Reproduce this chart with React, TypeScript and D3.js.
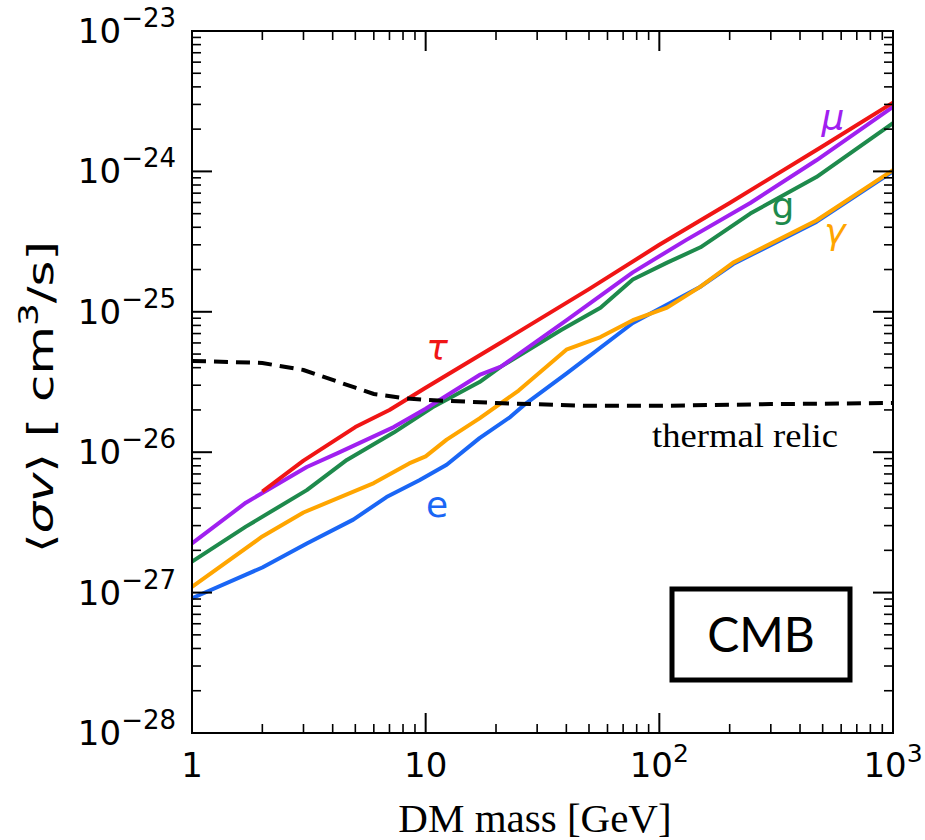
import React from "react";
import * as d3 from "d3";

// ---- data ----
const tauMass = [2, 3, 5, 7, 10, 20, 50, 100, 200, 500, 1000];
const tauSv = [5.25e-27, 8.7e-27, 1.51e-26, 2.0e-26, 2.88e-26, 5.75e-26, 1.45e-25, 3.0e-25, 5.96e-25, 1.51e-24, 3.09e-24];

const muMass = [1, 1.7, 3.1, 4.2, 7.3, 10, 17, 21, 40, 77, 130, 245, 470, 1000];
const muSv = [2.24e-27, 4.37e-27, 7.85e-27, 9.86e-27, 1.51e-26, 2.04e-26, 3.55e-26, 4.07e-26, 8.7e-26, 1.91e-25, 3.24e-25, 5.96e-25, 1.2e-24, 2.88e-24];

const gMass = [1, 1.7, 3.1, 4.6, 7.3, 10.7, 17, 21, 38, 56, 77, 108, 150, 245, 470, 1000];
const gSv = [1.66e-27, 2.95e-27, 5.37e-27, 8.81e-27, 1.38e-26, 2.09e-26, 3.16e-26, 4.07e-26, 7.41e-26, 1.07e-25, 1.7e-25, 2.24e-25, 2.88e-25, 5.01e-25, 9.12e-25, 2.21e-24];

const gammaMass = [1, 2, 3, 6, 8.5, 10, 12.3, 17, 25, 40, 56, 77, 108, 150, 207, 470, 1000];
const gammaSv = [1.1e-27, 2.51e-27, 3.72e-27, 6.03e-27, 8.32e-27, 9.33e-27, 1.23e-26, 1.74e-26, 2.75e-26, 5.37e-26, 6.61e-26, 8.71e-26, 1.07e-25, 1.51e-25, 2.24e-25, 4.47e-25, 1.02e-24];

const eMass = [1, 2, 3.1, 4.9, 6.8, 9.4, 12.3, 17, 23, 27, 40, 77, 150, 207, 470, 1000];
const eSv = [9.12e-28, 1.51e-27, 2.24e-27, 3.31e-27, 4.79e-27, 6.31e-27, 8.13e-27, 1.26e-26, 1.78e-26, 2.24e-26, 3.63e-26, 8.32e-26, 1.51e-25, 2.19e-25, 4.37e-25, 1.0e-24];

const thermalMass = [1, 2, 3, 4, 5, 6, 8, 10, 20, 50, 100, 300, 1000];
const thermalSv = [4.47e-26, 4.32e-26, 3.85e-26, 3.27e-26, 2.88e-26, 2.6e-26, 2.43e-26, 2.36e-26, 2.24e-26, 2.14e-26, 2.14e-26, 2.2e-26, 2.24e-26];

const xTickValues = [1, 10, 100, 1000];
const xTickLabels: [string, string][] = [["1", ""], ["10", ""], ["10", "2"], ["10", "3"]];
const yTickValues = [1e-28, 1e-27, 1e-26, 1e-25, 1e-24, 1e-23];
const yTickExps = ["−28", "−27", "−26", "−25", "−24", "−23"];

const W = 925;
const H = 840;
const L = 192, R = 893, T = 31, B = 733;

export default function App() {
  const x = d3.scaleLog().domain([1, 1000]).range([L, R]);
  const y = d3.scaleLog().domain([1e-28, 1e-23]).range([B, T]);

  const line = (ms: number[], vs: number[]) =>
    d3.line<number>().x((_, i) => x(ms[i])).y((v) => y(v))(vs) || "";

  const xMinor: number[] = [];
  for (let d = 1; d < 1000; d *= 10) for (let k = 2; k <= 9; k++) xMinor.push(d * k);
  const yMinor: number[] = [];
  for (let e = -28; e < -23; e++) for (let k = 2; k <= 9; k++) yMinor.push(k * Math.pow(10, e));

  const major = 20, minor = 9;
  const tickFont = "'DejaVu Sans', sans-serif";

  const series = [
    { m: eMass, v: eSv, c: "#1a66f5" },
    { m: gammaMass, v: gammaSv, c: "#ffa500" },
    { m: gMass, v: gSv, c: "#1e8a4c" },
    { m: muMass, v: muSv, c: "#a020f0" },
    { m: tauMass, v: tauSv, c: "#f01515" },
  ];

  return (
    <svg width={W} height={H} style={{ position: "absolute", left: 0, top: 0, background: "#fff" }}>
      <rect x={0} y={0} width={W} height={H} fill="#fff" />
      <g>
        {series.map((s, i) => (
          <path key={i} d={line(s.m, s.v)} fill="none" stroke={s.c} strokeWidth={4} strokeLinejoin="round" />
        ))}
        <path d={line(thermalMass, thermalSv)} fill="none" stroke="#000" strokeWidth={4} strokeDasharray="14 8" />
      </g>

      {/* frame */}
      <rect x={L} y={T} width={R - L} height={B - T} fill="none" stroke="#000" strokeWidth={2} />

      {/* x ticks */}
      {xTickValues.map((v, i) => (
        <g key={"xM" + i}>
          <line x1={x(v)} x2={x(v)} y1={B} y2={B - major} stroke="#000" strokeWidth={2} />
          <line x1={x(v)} x2={x(v)} y1={T} y2={T + major} stroke="#000" strokeWidth={2} />
        </g>
      ))}
      {xMinor.map((v, i) => (
        <g key={"xm" + i}>
          <line x1={x(v)} x2={x(v)} y1={B} y2={B - minor} stroke="#000" strokeWidth={1.6} />
          <line x1={x(v)} x2={x(v)} y1={T} y2={T + minor} stroke="#000" strokeWidth={1.6} />
        </g>
      ))}
      {/* y ticks */}
      {yTickValues.map((v, i) => (
        <g key={"yM" + i}>
          <line x1={L} x2={L + major} y1={y(v)} y2={y(v)} stroke="#000" strokeWidth={2} />
          <line x1={R} x2={R - major} y1={y(v)} y2={y(v)} stroke="#000" strokeWidth={2} />
        </g>
      ))}
      {yMinor.map((v, i) => (
        <g key={"ym" + i}>
          <line x1={L} x2={L + minor} y1={y(v)} y2={y(v)} stroke="#000" strokeWidth={1.6} />
          <line x1={R} x2={R - minor} y1={y(v)} y2={y(v)} stroke="#000" strokeWidth={1.6} />
        </g>
      ))}

      {/* x tick labels */}
      {xTickValues.map((v, i) => (
        <text key={"xl" + i} x={x(v)} y={777} textAnchor="middle" fontFamily={tickFont} fontSize={34} fill="#000">
          <tspan>{xTickLabels[i][0]}</tspan>
          {xTickLabels[i][1] && (
            <tspan dy={-15} fontSize={25}>{xTickLabels[i][1]}</tspan>
          )}
        </text>
      ))}
      {/* y tick labels */}
      {yTickValues.map((v, i) => (
        <text key={"yl" + i} x={176} y={y(v) + 12} textAnchor="end" fontFamily={tickFont} fontSize={34} fill="#000">
          <tspan>10</tspan>
          <tspan dy={-16} fontSize={26}>{yTickExps[i]}</tspan>
        </text>
      ))}

      {/* axis labels */}
      <text x={535} y={832} textAnchor="middle" fontFamily="'Liberation Serif', 'Times New Roman', serif" fontSize={41} fill="#000">
        DM mass [GeV]
      </text>
      <text transform="translate(53,397) rotate(-90)" textAnchor="middle" fontFamily={tickFont} fontSize={36} fill="#000" textLength={312} lengthAdjust="spacingAndGlyphs">
        <tspan>⟨</tspan>
        <tspan fontStyle="italic">σv</tspan>
        <tspan>⟩ [ cm</tspan>
        <tspan dy={-15} fontSize={26}>3</tspan>
        <tspan dy={15}>/s]</tspan>
      </text>

      {/* curve labels */}
      <text x={437} y={360} textAnchor="middle" fontFamily={tickFont} fontSize={36} fontStyle="italic" fill="#f01515">τ</text>
      <text x={833} y={130} textAnchor="middle" fontFamily={tickFont} fontSize={36} fontStyle="italic" fill="#a020f0">μ</text>
      <text x={783} y={218} textAnchor="middle" fontFamily={tickFont} fontSize={36} fill="#1e8a4c">g</text>
      <text x={835} y={244} textAnchor="middle" fontFamily={tickFont} fontSize={36} fontStyle="italic" fill="#ffa500">γ</text>
      <text x={437} y={517} textAnchor="middle" fontFamily={tickFont} fontSize={36} fill="#1a66f5">e</text>

      <text x={652} y={447} fontFamily="'Liberation Serif', 'Times New Roman', serif" fontSize={34} textLength={186} lengthAdjust="spacingAndGlyphs" fill="#000">
        thermal relic
      </text>

      {/* CMB box */}
      <rect x={672} y={589} width={178} height={91} fill="#fff" stroke="#000" strokeWidth={5} />
      <text x={761} y={652} textAnchor="middle" fontFamily="Lato, 'Open Sans', sans-serif" fontSize={48} fill="#000">CMB</text>
    </svg>
  );
}
